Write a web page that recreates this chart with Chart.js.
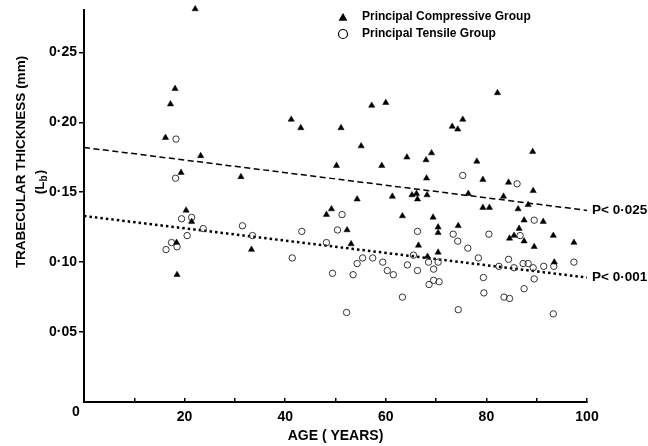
<!DOCTYPE html>
<html>
<head>
<meta charset="utf-8">
<script src="https://cdn.jsdelivr.net/npm/chart.js@4/dist/chart.umd.min.js"></script>
<style>
  body { margin: 0; background: #fff; }
  #wrap { width: 648px; height: 446px; }
</style>
</head>
<body>
<div id="wrap"><canvas id="chart" width="648" height="446"></canvas></div>
<script>
// principal compressive group (filled triangles)
let compAge = [22.1, 18.1, 17.2, 16.2, 23.2, 41.2, 43.1, 19.3, 31.2, 20.3, 21.4, 18.4, 33.3, 18.5,
  57.2, 60.0, 51.1, 55.1, 64.2, 69.1, 68.0, 50.2, 59.2, 68.1, 54.3, 61.3, 65.2, 66.1, 66.3, 68.2,
  48.2, 49.2, 63.3, 69.4, 52.3, 70.4, 70.4, 53.1, 66.5, 70.4, 68.3,
  82.2, 75.3, 73.2, 74.3, 89.2, 78.1, 79.3, 84.4, 89.3, 76.4, 83.4, 88.3, 79.3, 80.6, 86.3,
  87.5, 91.3, 74.4, 86.5, 93.3, 84.6, 85.5, 87.5, 97.4, 89.5, 93.5]
let compVal = [0.281, 0.224, 0.213, 0.189, 0.176, 0.202, 0.196, 0.164, 0.161, 0.137, 0.129, 0.114, 0.109, 0.091,
  0.212, 0.214, 0.196, 0.183, 0.175, 0.178, 0.173, 0.169, 0.169, 0.160, 0.145, 0.147, 0.148, 0.149, 0.145, 0.148,
  0.134, 0.138, 0.133, 0.132, 0.123, 0.125, 0.121, 0.113, 0.112, 0.107, 0.104,
  0.221, 0.202, 0.197, 0.195, 0.179, 0.172, 0.159, 0.157, 0.151, 0.149, 0.147, 0.141, 0.139, 0.139, 0.138,
  0.130, 0.129, 0.126, 0.124, 0.119, 0.117, 0.119, 0.115, 0.114, 0.111, 0.100]

// principal tensile group (open circles)
let tensAge = [18.3, 18.2, 19.4, 21.4, 20.5, 23.7, 31.5, 33.5, 43.3, 17.4, 18.5, 16.3, 41.4,
  48.2, 50.4, 51.3, 49.4, 53.5, 52.2, 54.3, 55.4, 57.4, 59.4, 60.3, 61.5, 63.3, 64.3, 65.5, 66.3, 66.3,
  68.5, 69.5, 70.4, 69.5, 70.6, 68.6, 73.4, 74.3, 76.3, 80.5, 89.5, 78.4, 84.4, 74.4,
  82.5, 85.5, 87.3, 88.3, 89.3, 91.4, 93.4, 97.4, 79.4, 89.5, 79.5, 83.5, 84.6, 87.5, 93.3,
  86.1, 75.3, 86.7]
let tensVal = [0.188, 0.160, 0.131, 0.132, 0.119, 0.124, 0.126, 0.119, 0.122, 0.114, 0.111, 0.109, 0.103,
  0.114, 0.123, 0.134, 0.092, 0.091, 0.064, 0.099, 0.103, 0.103, 0.100, 0.094, 0.091, 0.075, 0.098, 0.105, 0.094, 0.122,
  0.100, 0.095, 0.100, 0.087, 0.086, 0.084, 0.120, 0.115, 0.110, 0.120, 0.130, 0.103, 0.102, 0.066,
  0.097, 0.096, 0.099, 0.099, 0.096, 0.097, 0.097, 0.100, 0.089, 0.088, 0.078, 0.075, 0.074, 0.081, 0.063,
  0.156, 0.162, 0.119]

// regression lines
let fitAge = [0, 100]
let compFit = [0.182, 0.137]
let tensFit = [0.133, 0.089]

let xTicks = [0, 10, 20, 30, 40, 50, 60, 70, 80, 90, 100]
let yTicks = [0.05, 0.10, 0.15, 0.20, 0.25]

let compName = 'Principal Compressive Group'
let tensName = 'Principal Tensile Group'
let compP = 'P< 0·025'
let tensP = 'P< 0·001'
let xTitle = 'AGE ( YEARS)'
let yTitle = 'TRABECULAR THICKNESS (mm)'

let family = '"Liberation Sans", Arial, sans-serif'

function toPoints(xs, ys) {
  let result = []
  for (let i = 0; i < xs.length; ++i)
    result.push({x: xs[i], y: ys[i]})
  return result
}

function fmt(v) {
  return v.toFixed(2).replace('.', '·')
}

let figureText = {
  id: 'figureText',
  afterDraw(chart) {
    let ctx = chart.ctx
    let xs = chart.scales.x
    let ys = chart.scales.y
    ctx.save()
    ctx.fillStyle = '#000'
    ctx.strokeStyle = '#000'

    // rotated y title and (Lb)
    ctx.save()
    ctx.translate(21, 162)
    ctx.rotate(-Math.PI / 2)
    ctx.font = 'bold 13.5px ' + family
    ctx.textAlign = 'center'
    ctx.textBaseline = 'middle'
    ctx.fillText(yTitle, 0, 0)
    ctx.restore()

    ctx.save()
    ctx.translate(40, 182)
    ctx.rotate(-Math.PI / 2)
    ctx.textBaseline = 'middle'
    ctx.textAlign = 'left'
    let big = 'bold 13.5px ' + family
    let small = 'bold 10px ' + family
    ctx.font = big
    let w1 = ctx.measureText('(L').width
    let w3 = ctx.measureText(')').width
    ctx.font = small
    let w2 = ctx.measureText('b').width + 1
    let start = -(w1 + w2 + w3) / 2
    ctx.font = big
    ctx.fillText('(L', start, 0)
    ctx.font = small
    ctx.fillText('b', start + w1, 4)
    ctx.font = big
    ctx.fillText(')', start + w1 + w2, 0)
    ctx.restore()

    // origin label
    ctx.font = 'bold 14px ' + family
    ctx.textAlign = 'center'
    ctx.textBaseline = 'middle'
    ctx.fillText('0', 76, 412)

    // p values at the line ends
    ctx.font = 'bold 13.5px ' + family
    ctx.textAlign = 'left'
    let xEnd = xs.getPixelForValue(fitAge[1]) + 5
    ctx.fillText(compP, xEnd, ys.getPixelForValue(compFit[1]))
    ctx.fillText(tensP, xEnd, ys.getPixelForValue(tensFit[1]))

    // legend
    Chart.helpers.drawPoint(ctx, {pointStyle: 'triangle', radius: 4.8, rotation: 0}, 343, 18)
    ctx.fill()
    ctx.lineWidth = 1.2
    ctx.beginPath()
    ctx.arc(343, 34, 4.5, 0, Math.PI * 2)
    ctx.stroke()
    ctx.font = 'bold 12px ' + family
    ctx.fillText(compName, 362, 17)
    ctx.fillText(tensName, 362, 34)
    ctx.restore()
  }
}

let tickFont = {family: family, size: 14, weight: 'bold'}

new Chart(document.getElementById('chart'), {
  type: 'scatter',
  data: {
    datasets: [
      {
        label: compName,
        data: toPoints(compAge, compVal),
        pointStyle: 'triangle',
        pointRadius: 3.6,
        backgroundColor: '#000',
        borderColor: '#000',
        borderWidth: 0.5,
        clip: false,
      },
      {
        label: tensName,
        data: toPoints(tensAge, tensVal),
        pointStyle: 'circle',
        pointRadius: 3.2,
        backgroundColor: 'rgba(0,0,0,0)',
        borderColor: '#333',
        borderWidth: 1,
      },
      {
        type: 'line',
        data: toPoints(fitAge, compFit),
        borderColor: '#000',
        borderWidth: 1.5,
        borderDash: [6, 3.5],
        pointRadius: 0,
        fill: false,
      },
      {
        type: 'line',
        data: toPoints(fitAge, tensFit),
        borderColor: '#000',
        borderWidth: 2.5,
        borderDash: [2.5, 3],
        pointRadius: 0,
        fill: false,
      },
    ],
  },
  options: {
    responsive: false,
    animation: false,
    events: [],
    layout: {
      padding: {top: 10, right: 61, left: 0, bottom: 0},
    },
    plugins: {
      legend: {display: false},
      tooltip: {enabled: false},
    },
    scales: {
      x: {
        type: 'linear',
        min: 0,
        max: 100,
        afterFit: s => { s.height = 44 },
        afterBuildTicks: s => { s.ticks = xTicks.map(v => ({value: v})) },
        border: {color: '#000', width: 2},
        grid: {drawOnChartArea: false, color: '#000', lineWidth: 1.5, tickLength: -4},
        ticks: {
          color: '#000',
          font: tickFont,
          padding: 11,
          maxRotation: 0,
          autoSkip: false,
          callback: v => (v % 20 === 0 && v > 0) ? String(v) : '',
        },
        title: {
          display: true,
          text: xTitle,
          color: '#000',
          font: tickFont,
          padding: {top: 0, bottom: 1},
        },
      },
      y: {
        type: 'linear',
        min: 0,
        max: 0.28,
        afterFit: s => { s.width = 84 },
        afterBuildTicks: s => { s.ticks = yTicks.map(v => ({value: v})) },
        border: {color: '#000', width: 2},
        grid: {drawOnChartArea: false, color: '#000', lineWidth: 1.5, tickLength: 5},
        ticks: {
          color: '#000',
          font: tickFont,
          padding: 2,
          callback: v => fmt(v),
        },
      },
    },
  },
  plugins: [figureText],
})
</script>
</body>
</html>
